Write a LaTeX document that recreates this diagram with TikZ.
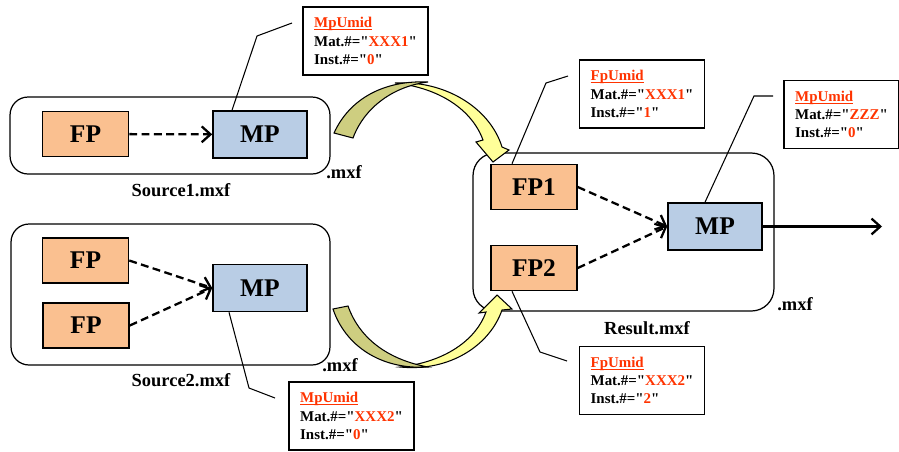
\documentclass[tikz,border=0pt]{standalone}
\usepackage{fontspec}
\setmainfont{Liberation Serif}[Ligatures=TeXOff]
\usetikzlibrary{arrows.meta}

\definecolor{fpfill}{RGB}{250,192,144}
\definecolor{mpfill}{RGB}{185,205,229}
\definecolor{umidred}{RGB}{255,51,0}
\definecolor{flechefonce}{RGB}{206,206,128}
\definecolor{flecheclair}{RGB}{255,255,153}

\newcommand{\souligne}[1]{{\setbox0\hbox{#1}\rlap{\rule[-1.4pt]{\wd0}{0.6pt}}\box0}}
\newcommand{\umidtext}[3]{\textcolor{umidred}{\souligne{#1Umid}}\\Mat.\#="\textcolor{umidred}{#2}"\\Inst.\#="\textcolor{umidred}{#3}"}

\tikzset{
  fichier/.style={draw, line width=0.7pt, rounded corners=0.36cm},
  fpbox/.style={draw, line width=0.9pt, fill=fpfill, minimum width=1.72cm, minimum height=0.9cm,
    font=\fontsize{14.5}{17}\selectfont\bfseries},
  mpbox/.style={fpbox, fill=mpfill, minimum width=1.88cm, minimum height=0.94cm},
  lien/.style={line width=1.3pt, dash pattern=on 4.5pt off 2.5pt, -{Straight Barb[length=5pt,width=9pt]}},
  fleche/.style={line width=1.3pt, -{Straight Barb[length=5pt,width=9pt]}},
  nom/.style={font=\fontsize{10.5}{12}\selectfont\bfseries},
  umid/.style={draw, line width=0.9pt, align=left, inner xsep=0.22cm, minimum height=1.36cm,
    font=\fontsize{8.5}{10.4}\selectfont\bfseries},
  renvoi/.style={line width=0.6pt}
}

\begin{document}
\begin{tikzpicture}[x=0.02cm,y=-0.02cm]
\useasboundingbox (0,0) rectangle (899,451);

% Fichiers
\node[fichier, minimum width=6.4cm, minimum height=1.54cm] (src1) at (170,135.5) {};
\node[fichier, minimum width=6.38cm, minimum height=2.82cm] (src2) at (170.5,294.5) {};
\node[fichier, rounded corners=0.45cm, minimum width=6.02cm, minimum height=3.16cm] (res) at (623.5,232) {};

% Flèche haute
\filldraw[fill=flecheclair, line width=0.6pt]
(395,83)
.. controls (445,80) and (490,108) .. (502,147)
-- (509,150)
-- (493,162)
-- (476,142)
-- (483,140)
.. controls (472,110) and (440,88) .. (395,83)
-- cycle;
\filldraw[fill=flechefonce, line width=0.6pt]
(334,133)
.. controls (350,98) and (385,80) .. (428,82)
.. controls (395,86) and (365,106) .. (353,138)
-- cycle;

% Flèche basse
\filldraw[fill=flecheclair, line width=0.6pt]
(400,367)
.. controls (450,372) and (490,345) .. (502,310)
-- (512,309)
-- (497,295)
-- (479,313)
-- (486,312)
.. controls (476,340) and (445,362) .. (400,367)
-- cycle;
\filldraw[fill=flechefonce, line width=0.6pt]
(333,309)
.. controls (345,345) and (380,370) .. (428,367)
.. controls (390,360) and (360,340) .. (348,306)
-- cycle;

% Boîtes
\node[fpbox] (fp) at (85.5,134) {FP};
\node[mpbox] (mp1) at (260,134.5) {MP};
\node[fpbox] (fpa) at (85.5,260.5) {FP};
\node[fpbox] (fpb) at (86,325.5) {FP};
\node[mpbox] (mp2) at (260,288) {MP};
\node[fpbox] (fp1) at (534,187) {FP1};
\node[fpbox] (fp2) at (534,268) {FP2};
\node[mpbox] (mpr) at (715,226.5) {MP};

% Liens
\draw[lien] (fp) -- (mp1);
\draw[lien] (fpa.east) -- (mp2.west);
\draw[lien] (fpb.east) -- (mp2.west);
\draw[lien] (fp1.east) -- (mpr.west);
\draw[lien] (fp2.east) -- (mpr.west);

\coordinate (sortie) at (882,226.5);
\draw[fleche] (mpr) -- (sortie);

% Noms
\node[nom] (n1) at (181,190) {Source1.mxf};
\node[nom] (x1) at (344,172) {.mxf};
\node[nom] (n2) at (181,380) {Source2.mxf};
\node[nom] (x2) at (340,365) {.mxf};
\node[nom] (n3) at (647,328) {Result.mxf};
\node[nom] (x3) at (795,304) {.mxf};

% Étiquettes
\node[umid] (uA) at (365.5,41) {\umidtext{Mp}{XXX1}{0}};
\node[umid] (uB) at (351.5,416) {\umidtext{Mp}{XXX2}{0}};
\node[umid] (uC) at (642,94) {\umidtext{Fp}{XXX1}{1}};
\node[umid] (uD) at (841.5,114.5) {\umidtext{Mp}{ZZZ}{0}};
\node[umid] (uE) at (642,380.5) {\umidtext{Fp}{XXX2}{2}};

% Renvois
\coordinate (kA) at (257,36);
\coordinate (eA) at (292,23);
\draw[renvoi] ([xshift=-0.56cm]mp1.north) -- (kA) -- (eA);

\coordinate (kB) at (249,388);
\coordinate (eB) at (275,398);
\draw[renvoi] ([xshift=-0.62cm]mp2.south) -- (kB) -- (eB);

\coordinate (kC) at (546,83);
\coordinate (eC) at (568,76);
\draw[renvoi] ([xshift=-0.44cm]fp1.north) -- (kC) -- (eC);

\coordinate (kD) at (754,96);
\coordinate (eD) at (773,96);
\draw[renvoi] ([xshift=-0.2cm]mpr.north) -- (kD) -- (eD);

\coordinate (kE) at (540,352);
\coordinate (eE) at (567,361);
\draw[renvoi] ([xshift=-0.44cm]fp2.south) -- (kE) -- (eE);

\end{tikzpicture}
\end{document}
